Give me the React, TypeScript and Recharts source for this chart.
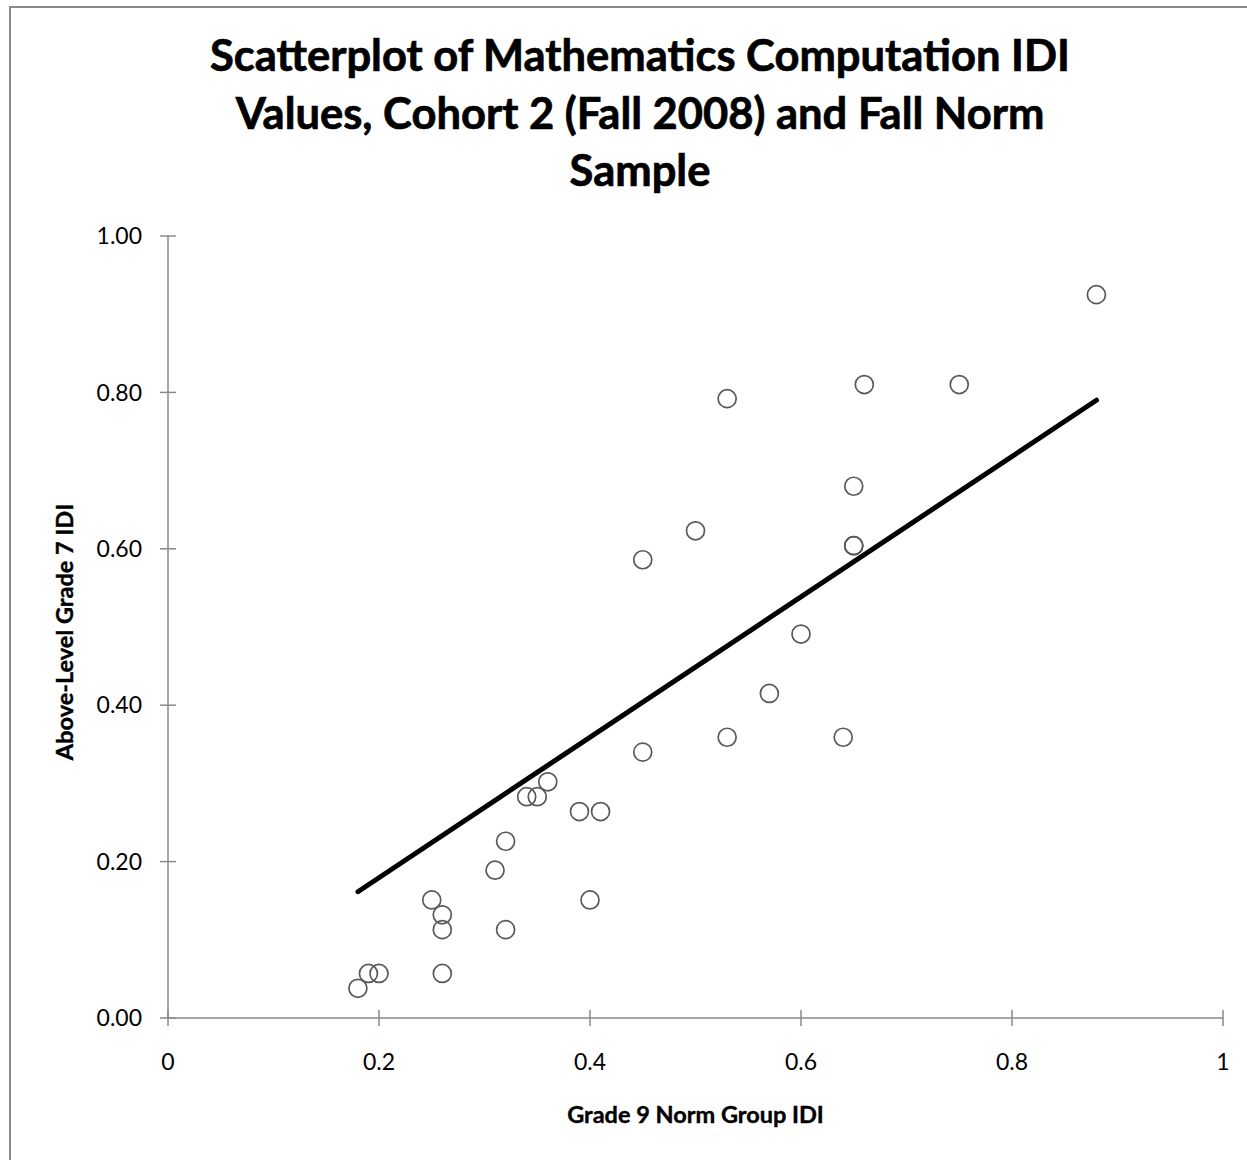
import React from "react";
import { ReferenceLine, Scatter, ScatterChart, XAxis, YAxis } from "recharts";

// Grade 9 norm group IDI (x) and above-level grade 7 IDI (y)
const normIdi = [
  0.88, 0.66, 0.75, 0.53, 0.65, 0.65, 0.65, 0.5, 0.45, 0.6, 0.57, 0.53, 0.64, 0.45, 0.36,
  0.34, 0.35, 0.39, 0.41, 0.32, 0.31, 0.25, 0.26, 0.26, 0.32, 0.4, 0.26, 0.19, 0.2, 0.18,
];
const aboveLevelIdi = [
  0.925, 0.81, 0.81, 0.792, 0.68, 0.604, 0.604, 0.623, 0.586, 0.491, 0.415, 0.359, 0.359, 0.34,
  0.302, 0.283, 0.283, 0.264, 0.264, 0.226, 0.189, 0.151, 0.132, 0.113, 0.113, 0.151, 0.057,
  0.057, 0.057, 0.038,
];

// linear trend line end points
const trendX = [0.18, 0.88];
const trendY = [0.1615, 0.79];

const xTicks = [0, 0.2, 0.4, 0.6, 0.8, 1];
const yTicks = [0, 0.2, 0.4, 0.6, 0.8, 1];

const points = normIdi.map((x, i) => ({ x, y: aboveLevelIdi[i] }));

const FONT = "Lato, 'Open Sans', sans-serif";
const AXIS = "#898989";
const TICK = 8;
const X_MARGIN = 28;
const Y_MARGIN = 18;

function YTick(props: any) {
  const { x, y, payload } = props;
  const lineX = x + Y_MARGIN;
  return (
    <g>
      <line x1={lineX} x2={lineX + TICK * 2} y1={y} y2={y} stroke={AXIS} strokeWidth={1.5} />
      <text x={x} y={y} dy="0.355em" textAnchor="end" fill="#000" fontSize={23} fontFamily={FONT}>
        {payload.value.toFixed(2)}
      </text>
    </g>
  );
}

function XTick(props: any) {
  const { x, y, payload } = props;
  const lineY = y - X_MARGIN;
  return (
    <g>
      <line x1={x} x2={x} y1={lineY - TICK * 2} y2={lineY} stroke={AXIS} strokeWidth={1.5} />
      <text x={x} y={y} dy="0.71em" textAnchor="middle" fill="#000" fontSize={23} fontFamily={FONT}>
        {String(payload.value)}
      </text>
    </g>
  );
}

function Ring(props: any) {
  return <circle cx={props.cx} cy={props.cy} r={9} fill="none" stroke="#595959" strokeWidth={1.7} />;
}

const axisTitle: React.CSSProperties = {
  position: "absolute",
  width: 800,
  height: 30,
  lineHeight: "30px",
  textAlign: "center",
  fontSize: 23.5,
  fontWeight: 700,
  color: "#000",
  WebkitTextStroke: "0.4px #000",
};

export default function App() {
  return (
    <div
      style={{
        position: "absolute",
        left: 9,
        top: 6,
        width: 1236,
        height: 1152,
        borderLeft: `2px solid ${AXIS}`,
        borderTop: `2px solid ${AXIS}`,
        background: "#fff",
        overflow: "hidden",
        fontFamily: FONT,
      }}
    >
      <div
        style={{
          position: "absolute",
          left: 0,
          top: 18,
          width: 1236,
          paddingLeft: 22,
          boxSizing: "border-box",
          textAlign: "center",
          fontSize: 43.5,
          fontWeight: 700,
          lineHeight: "57.5px",
          color: "#000",
          WebkitTextStroke: "0.7px #000",
        }}
      >
        Scatterplot of Mathematics Computation IDI
        <br />
        Values, Cohort 2 (Fall 2008) and Fall Norm
        <br />
        Sample
      </div>

      <ScatterChart width={1236} height={1152} margin={{ top: 228, right: 24, bottom: 42, left: 57 }}>
        <XAxis
          type="number"
          dataKey="x"
          domain={[0, 1]}
          ticks={xTicks}
          interval={0}
          height={100}
          tickSize={TICK}
          tickMargin={X_MARGIN}
          tickLine={false}
          axisLine={{ stroke: AXIS, strokeWidth: 1.5 }}
          tick={<XTick />}
        />
        <YAxis
          type="number"
          dataKey="y"
          domain={[0, 1]}
          ticks={yTicks}
          interval={0}
          width={100}
          tickSize={TICK}
          tickMargin={Y_MARGIN}
          tickLine={false}
          axisLine={{ stroke: AXIS, strokeWidth: 1.5 }}
          tick={<YTick />}
        />
        <Scatter data={points} shape={<Ring />} isAnimationActive={false} />
        <ReferenceLine
          segment={[
            { x: trendX[0], y: trendY[0] },
            { x: trendX[1], y: trendY[1] },
          ]}
          stroke="#000"
          strokeWidth={5}
          strokeLinecap="round"
        />
      </ScatterChart>

      <div style={{ ...axisTitle, left: 284.5, top: 1091 }}>Grade 9 Norm Group IDI</div>
      <div style={{ ...axisTitle, width: 400, left: -147, top: 609, transform: "rotate(-90deg)" }}>
        Above-Level Grade 7 IDI
      </div>
    </div>
  );
}
